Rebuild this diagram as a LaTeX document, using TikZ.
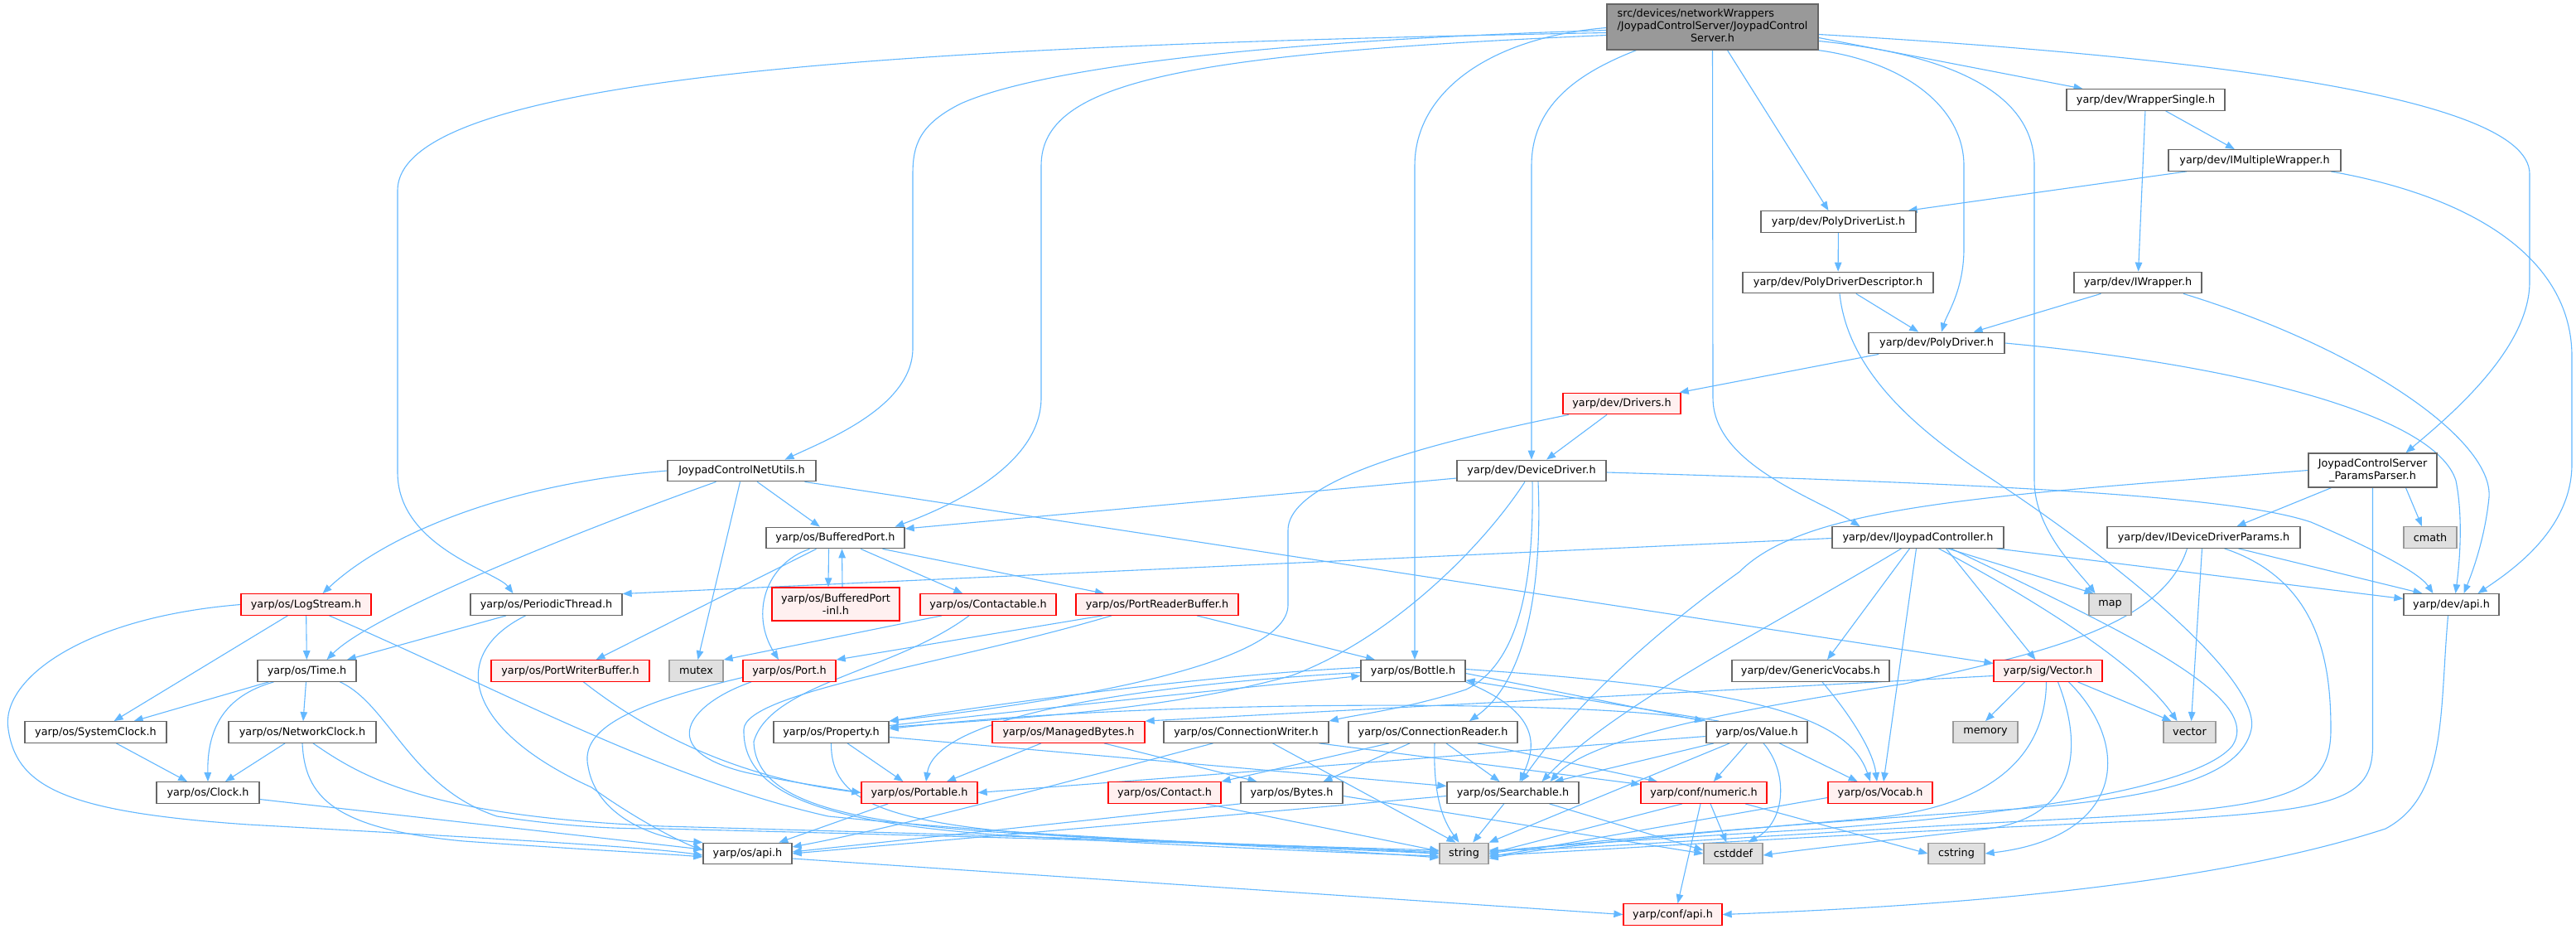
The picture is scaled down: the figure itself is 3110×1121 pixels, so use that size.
\documentclass[tikz,border=0pt]{standalone}
\usepackage{fontspec}
\setmainfont{DejaVu Sans}
\usetikzlibrary{arrows.meta}
\definecolor{edgecol}{HTML}{63B8FF}
\definecolor{nodeborder}{HTML}{666666}
\definecolor{redborder}{HTML}{FF0000}
\definecolor{redfill}{HTML}{FFF0F0}
\definecolor{grayborder}{HTML}{999999}
\definecolor{grayfill}{HTML}{E0E0E0}
\definecolor{rootfill}{HTML}{999999}
\pgfdeclarelayer{bg}
\pgfdeclarelayer{edges}
\pgfsetlayers{bg,edges,main}
\tikzset{
  nbase/.style={draw, line width=1.3pt, inner sep=0pt, minimum height=25.5pt, font=\fontsize{12.8}{15.3}\selectfont, text=black},
  nb/.style={nbase, draw=nodeborder, fill=white},
  nr/.style={nbase, draw=redborder, fill=redfill},
  ng/.style={nbase, draw=grayborder, fill=grayfill},
  nroot/.style={nbase, draw=nodeborder, fill=rootfill},
  e/.style={draw=edgecol, line width=1.1pt, -{Triangle[length=11pt,width=8.5pt]}},
}
\begin{document}
\begin{tikzpicture}[x=1pt,y=-1pt]
\begin{pgfonlayer}{bg}
\fill[white] (0,0) rectangle (3110,1121);
\end{pgfonlayer}
\useasboundingbox (0,0) rectangle (3110,1121);
% nodes
\node[nroot, minimum width=255pt, minimum height=55pt] (root) at (2067.5,32.5) {\begin{tabular}{@{}l@{}}src/devices/networkWrappers\\/JoypadControlServer/JoypadControl\\\multicolumn{1}{@{}c@{}}{Server.h}\end{tabular}};
\node[nb, minimum width=191pt] (wsingle) at (2590.5,120.5) {yarp/dev/WrapperSingle.h};
\node[nb, minimum width=208pt] (imw) at (2722,193.5) {yarp/dev/IMultipleWrapper.h};
\node[nb, minimum width=187pt] (pdlist) at (2219.5,267.5) {yarp/dev/PolyDriverList.h};
\node[nb, minimum width=230pt] (pddesc) at (2219,341) {yarp/dev/PolyDriverDescriptor.h};
\node[nb, minimum width=154pt] (iwrap) at (2581,341) {yarp/dev/IWrapper.h};
\node[nb, minimum width=164pt] (polyd) at (2338,414) {yarp/dev/PolyDriver.h};
\node[nr, minimum width=142pt] (drivers) at (1958,487) {yarp/dev/Drivers.h};
\node[nb, minimum width=180pt] (devdrv) at (1849,568) {yarp/dev/DeviceDriver.h};
\node[nb, minimum width=179pt] (netutils) at (895.5,568) {JoypadControlNetUtils.h};
\node[nb, minimum width=155pt, minimum height=41pt, align=center] (pparser) at (2864.5,567.5) {JoypadControlServer\\\_ParamsParser.h};
\node[nb, minimum width=167pt] (bport) at (1008.5,649) {yarp/os/BufferedPort.h};
\node[nb, minimum width=207pt] (ijoy) at (2315.5,648.5) {yarp/dev/IJoypadController.h};
\node[nb, minimum width=233pt] (iddp) at (2660.5,648.5) {yarp/dev/IDeviceDriverParams.h};
\node[ng, minimum width=64pt] (cmath) at (2934,648.5) {cmath};
\node[nr, minimum width=157pt] (logst) at (369.5,729.5) {yarp/os/LogStream.h};
\node[nb, minimum width=183pt] (pthread) at (659.5,729.5) {yarp/os/PeriodicThread.h};
\node[nr, minimum width=154pt, minimum height=40pt, align=center] (bpinl) at (1009,729) {yarp/os/BufferedPort\\-inl.h};
\node[nr, minimum width=164pt] (contactable) at (1193,729.5) {yarp/os/Contactable.h};
\node[nr, minimum width=196pt] (prb) at (1397,729.5) {yarp/os/PortReaderBuffer.h};
\node[ng, minimum width=51pt] (map) at (2547.5,729.5) {map};
\node[nb, minimum width=115pt] (devapi) at (2959.5,729.5) {yarp/dev/api.h};
\node[nb, minimum width=119pt] (time) at (370.5,809.5) {yarp/os/Time.h};
\node[nr, minimum width=191pt] (pwb) at (688.5,809.5) {yarp/os/PortWriterBuffer.h};
\node[ng, minimum width=65pt] (mutex) at (840.5,809.5) {mutex};
\node[nr, minimum width=112pt] (port) at (953,809.5) {yarp/os/Port.h};
\node[nb, minimum width=126pt] (bottle) at (1706,809.5) {yarp/os/Bottle.h};
\node[nb, minimum width=190pt] (genvoc) at (2186,809.5) {yarp/dev/GenericVocabs.h};
\node[nr, minimum width=131pt] (sigvec) at (2472.5,809.5) {yarp/sig/Vector.h};
\node[nb, minimum width=171pt] (sysclk) at (115.5,883.5) {yarp/os/SystemClock.h};
\node[nb, minimum width=178pt] (netclk) at (365,883.5) {yarp/os/NetworkClock.h};
\node[nb, minimum width=139pt] (prop) at (1003.5,883.5) {yarp/os/Property.h};
\node[nr, minimum width=184pt] (mbytes) at (1290,883.5) {yarp/os/ManagedBytes.h};
\node[nb, minimum width=199pt] (cwriter) at (1504.5,883.5) {yarp/os/ConnectionWriter.h};
\node[nb, minimum width=204pt] (creader) at (1730,883.5) {yarp/os/ConnectionReader.h};
\node[nb, minimum width=122pt] (value) at (2121,883.5) {yarp/os/Value.h};
\node[ng, minimum width=78pt] (memory) at (2397,883.5) {memory};
\node[ng, minimum width=63pt] (vecstd) at (2643.5,883.5) {vector};
\node[nb, minimum width=124pt] (clock) at (251,956.5) {yarp/os/Clock.h};
\node[nr, minimum width=140pt] (portable) at (1110,956.5) {yarp/os/Portable.h};
\node[nr, minimum width=136pt] (contact) at (1406,956.5) {yarp/os/Contact.h};
\node[nb, minimum width=123pt] (bytes) at (1559.5,956.5) {yarp/os/Bytes.h};
\node[nb, minimum width=159pt] (searchable) at (1826.5,956.5) {yarp/os/Searchable.h};
\node[nr, minimum width=152pt] (numeric) at (2057,956.5) {yarp/conf/numeric.h};
\node[nr, minimum width=126pt] (vocab) at (2270,956.5) {yarp/os/Vocab.h};
\node[nb, minimum width=107pt] (osapi) at (902.5,1030) {yarp/os/api.h};
\node[ng, minimum width=59pt] (string) at (1767.5,1030) {string};
\node[ng, minimum width=71pt] (cstddef) at (2092.5,1030) {cstddef};
\node[ng, minimum width=68pt] (cstring) at (2362,1030) {cstring};
\node[nr, minimum width=119pt] (confapi) at (2019.5,1103.5) {yarp/conf/api.h};

\begin{pgfonlayer}{edges}
% root
\draw[e] ([yshift=-7pt]root.west) .. controls (1100,55) and (480,90) .. (480,230) -- (480,570) .. controls (480,660) and (600,690) .. ([xshift=-40pt]pthread.north);
\draw[e] ([yshift=-4pt]root.west) .. controls (1500,50) and (1250,85) .. (1160,125) .. controls (1110,150) and (1102,175) .. (1102,210) -- (1102,420) .. controls (1102,490) and (1000,530) .. ([xshift=52pt]netutils.north);
\draw[e] ([yshift=-10pt]root.west) .. controls (1420,65) and (1257,100) .. (1257,200) -- (1257,480) .. controls (1257,560) and (1150,610) .. ([xshift=72pt]bport.north);
\draw[e] ([yshift=-1pt]root.west) .. controls (1800,45) and (1708,110) .. (1708,200) -- ([xshift=2pt]bottle.north);
\draw[e] ([xshift=-92pt]root.south) .. controls (1900,90) and (1849,130) .. (1849,200) -- (devdrv.north);
\draw[e] (root.south) -- (2068,480) .. controls (2068,560) and (2190,600) .. ([xshift=-70pt]ijoy.north);
\draw[e] ([xshift=18pt]root.south) -- ([xshift=-12pt]pdlist.north);
\draw[e] (root.south east) .. controls (2300,75) and (2371,130) .. (2371,200) -- (2371,300) .. controls (2371,350) and (2350,380) .. ([xshift=6pt]polyd.north);
\draw[e] ([yshift=-17pt]root.east) .. controls (2350,65) and (2456,110) .. (2456,200) -- (2456,580) .. controls (2456,640) and (2510,690) .. ([xshift=-18pt]map.north);
\draw[e] ([yshift=-13pt]root.east) -- ([xshift=-76pt]wsingle.north);
\draw[e] ([yshift=-9pt]root.east) .. controls (2600,65) and (3054,110) .. (3054,210) -- (3054,340) .. controls (3054,420) and (2960,500) .. ([xshift=40pt]pparser.north);
% wrappers / poly driver
\draw[e] (wsingle) -- (imw);
\draw[e] (wsingle) -- (iwrap);
\draw[e] ([xshift=-82pt]imw.south) -- ([xshift=-10pt]pdlist.north east);
\draw[e] ([xshift=92pt]imw.south) .. controls (3000,240) and (3105,320) .. (3105,430) -- (3105,560) .. controls (3105,640) and (3030,690) .. ([xshift=32pt]devapi.north);
\draw[e] (iwrap) -- (polyd);
\draw[e] ([xshift=55pt]iwrap.south) .. controls (2850,420) and (3010,530) .. (3005,600) .. controls (3000,650) and (2985,690) .. ([xshift=15pt]devapi.north);
\draw[e] (pdlist) -- (pddesc);
\draw[e] (pddesc) -- (polyd);
\draw[e] ([xshift=2pt]pddesc.south) .. controls (2230,440) and (2300,510) .. (2400,575) .. controls (2560,680) and (2730,820) .. (2718,880) .. controls (2705,940) and (2600,962) .. (2450,975) .. controls (2200,992) and (1900,1015) .. (string.east);
\draw[e] (polyd) -- (drivers);
\draw[e] (polyd.east) .. controls (2700,440) and (2940,500) .. (2965,580) .. controls (2975,630) and (2968,690) .. ([xshift=5pt]devapi.north);
% drivers / device driver
\draw[e] (drivers) -- (devdrv);
\draw[e] ([xshift=-64pt]drivers.south) .. controls (1750,530) and (1555,575) .. (1555,640) -- (1555,730) .. controls (1555,800) and (1300,845) .. (prop.north east);
\draw[e] ([yshift=-9pt]devdrv.west) -- ([yshift=11pt]bport.east);
\draw[e] ([xshift=-8pt]devdrv.south) .. controls (1790,660) and (1680,770) .. (1560,815) .. controls (1400,860) and (1200,868) .. ([yshift=6pt]prop.east);
\draw[e] ([xshift=1pt]devdrv.south) .. controls (1852,700) and (1835,800) .. (1770,832) .. controls (1700,855) and (1640,862) .. (cwriter.north east);
\draw[e] ([xshift=8pt]devdrv.south) .. controls (1862,700) and (1845,820) .. ([xshift=44pt]creader.north);
\draw[e] ([yshift=-2pt]devdrv.east) .. controls (2450,585) and (2700,600) .. (2790,630) .. controls (2860,660) and (2920,690) .. ([xshift=-22pt]devapi.north);
% net utils
\draw[e] (netutils.west) .. controls (600,585) and (460,650) .. ([xshift=20pt]logst.north);
\draw[e] ([xshift=-31pt]netutils.south) .. controls (700,640) and (450,740) .. ([xshift=24pt]time.north);
\draw[e] ([xshift=-2pt]netutils.south) -- ([xshift=2pt]mutex.north);
\draw[e] (netutils) -- (bport);
\draw[e] ([xshift=76pt]netutils.south) -- ([yshift=9pt]sigvec.west);
% periodic thread
\draw[e] (pthread) -- (time);
\draw[e] ([xshift=-25pt]pthread.south) .. controls (540,790) and (560,880) .. (714,950) .. controls (770,990) and (820,1015) .. ([yshift=4pt]osapi.west);
% log stream
\draw[e] (logst) -- (time);
\draw[e] (logst) -- (sysclk);
\draw[e] (logst.west) .. controls (100,745) and (0,820) .. (10,880) .. controls (20,950) and (80,980) .. (300,995) .. controls (600,1012) and (780,1022) .. ([yshift=-2pt]osapi.west);
\draw[e] ([xshift=28pt]logst.south) .. controls (600,830) and (800,940) .. (1000,985) .. controls (1300,1015) and (1600,1022) .. ([yshift=2pt]string.west);
% time and clocks
\draw[e] (time) -- (sysclk);
\draw[e] ([xshift=-40pt]time.south) .. controls (270,840) and (250,880) .. (clock.north);
\draw[e] (time) -- (netclk);
\draw[e] ([xshift=40pt]time.south) .. controls (470,850) and (495,950) .. (600,985) .. controls (700,1000) and (760,1000) .. (800,1000) .. controls (1200,1010) and (1600,1022) .. ([yshift=4pt]string.west);
\draw[e] (sysclk) -- (clock);
\draw[e] (netclk) -- (clock);
\draw[e] (netclk.south) .. controls (368,960) and (400,1000) .. (560,1015) .. controls (700,1025) and (800,1030) .. ([yshift=-4pt]osapi.west);
\draw[e] ([xshift=13pt]netclk.south) .. controls (440,940) and (520,985) .. (800,997) .. controls (1200,1008) and (1600,1020) .. (string.west);
\draw[e] ([yshift=-8pt]clock.east) -- ([yshift=5pt]osapi.west);
% buffered port
\draw[e] ([xshift=-8pt]bport.south) -- ([xshift=-9pt]bpinl.north);
\draw[e] ([xshift=8pt]bpinl.north) -- ([xshift=8pt]bport.south);
\draw[e] (bport) -- (contactable);
\draw[e] ([xshift=57pt]bport.south) -- ([xshift=-64pt]prb.north);
\draw[e] ([xshift=-31pt]bport.south) .. controls (925,680) and (905,740) .. ([xshift=-13pt]port.north);
\draw[e] ([xshift=-23pt]bport.south) -- ([xshift=31pt]pwb.north);
% contactable, port reader buffer, port
\draw[e] ([xshift=-56pt]contactable.south) -- (mutex.north east);
\draw[e] ([xshift=-23pt]contactable.south) .. controls (1080,810) and (930,825) .. (910,895) .. controls (912,960) and (1000,990) .. (1200,1004) .. controls (1450,1018) and (1650,1026) .. (string.west);
\draw[e] ([xshift=-66pt]prb.south) -- (port.north east);
\draw[e] ([xshift=-55pt]prb.south) .. controls (1150,800) and (900,835) .. (898,880) .. controls (896,960) and (1000,992) .. (1200,1007) .. controls (1450,1022) and (1650,1030) .. ([yshift=-3pt]string.west);
\draw[e] ([xshift=48pt]prb.south) -- ([xshift=-46pt]bottle.north);
\draw[e] ([xshift=-46pt]port.south) .. controls (830,850) and (790,905) .. (900,932) .. controls (960,945) and (1000,950) .. (portable.west);
\draw[e] ([yshift=-8pt]port.west) .. controls (760,850) and (700,880) .. (710,925) .. controls (720,985) and (790,1012) .. (osapi.north west);
\draw[e] ([xshift=16pt]pwb.south) .. controls (790,890) and (900,940) .. (portable.west);
% property
\draw[e] (prop) -- (portable);
\draw[e] (prop.south) .. controls (1003,965) and (1060,995) .. (1300,1010) .. controls (1500,1020) and (1650,1028) .. ([yshift=-5pt]string.west);
\draw[e] ([yshift=-6pt]prop.east) -- ([yshift=8pt]searchable.west);
\draw[e] ([yshift=8pt]prop.east) .. controls (1300,850) and (1500,830) .. ([yshift=-6pt]bottle.west);
% bottle
\draw[e] ([yshift=4pt]bottle.west) .. controls (1450,815) and (1200,850) .. (prop.north east);
\draw[e] ([yshift=-2pt]bottle.west) .. controls (1400,825) and (1130,860) .. ([xshift=8pt]portable.north);
\draw[e] ([yshift=-3pt]bottle.east) -- ([xshift=-64pt]value.north);
\draw[e] ([xshift=-46pt]value.north) -- ([yshift=2pt]bottle.south east);
\draw[e] (bottle.south east) .. controls (1860,860) and (1855,900) .. ([xshift=8pt]searchable.north);
\draw[e] ([yshift=2pt]bottle.east) .. controls (2100,830) and (2230,860) .. ([xshift=-12pt]vocab.north);
% value
\draw[e] (value.north west) .. controls (1950,845) and (1400,842) .. ([yshift=4pt]prop.east);
\draw[e] ([yshift=-5pt]value.west) -- (portable.east);
\draw[e] ([xshift=-52pt]value.south) -- ([xshift=50pt]searchable.north);
\draw[e] ([xshift=-33pt]value.south) -- (string.north east);
\draw[e] (value) -- (numeric);
\draw[e] ([xshift=8pt]value.south) .. controls (2158,930) and (2158,990) .. ([xshift=18pt]cstddef.north);
\draw[e] (value) -- (vocab);
% searchable, numeric, vocab
\draw[e] (searchable) -- (string);
\draw[e] ([xshift=44pt]searchable.south) -- ([yshift=4pt]cstddef.west);
\draw[e] ([yshift=-4pt]searchable.west) -- (osapi.east);
\draw[e] ([xshift=-26pt]numeric.south) -- (string.east);
\draw[e] ([xshift=8pt]numeric.south) -- ([xshift=-8pt]cstddef.north);
\draw[e] ([xshift=-4pt]numeric.south) -- ([xshift=6pt]confapi.north);
\draw[e] ([xshift=50pt]numeric.south) -- (cstring.west);
\draw[e] ([yshift=-6pt]vocab.west) -- ([yshift=-4pt]string.east);
\draw[e] ([xshift=14pt]genvoc.south) .. controls (2240,870) and (2262,910) .. ([xshift=-4pt]vocab.north);
% joypad controller
\draw[e] ([yshift=-1pt]ijoy.west) -- ([yshift=13pt]pthread.east);
\draw[e] ([xshift=-20pt]ijoy.south) .. controls (2150,750) and (1950,850) .. ([xshift=35pt]searchable.north);
\draw[e] ([xshift=-10pt]ijoy.south) -- ([xshift=20pt]genvoc.north);
\draw[e] ([xshift=-2pt]ijoy.south) -- ([xshift=4pt]vocab.north);
\draw[e] ([xshift=36pt]ijoy.south) -- ([xshift=-20pt]map.north);
\draw[e] ([xshift=95pt]ijoy.south) -- ([yshift=7pt]devapi.west);
\draw[e] ([xshift=34pt]ijoy.south) -- ([xshift=-15pt]sigvec.north);
\draw[e] ([xshift=25pt]ijoy.south) .. controls (2450,720) and (2580,800) .. ([xshift=-15pt]vecstd.north);
\draw[e] ([xshift=40pt]ijoy.south) .. controls (2560,760) and (2735,840) .. (2695,900) .. controls (2650,955) and (2400,985) .. (2200,1000) .. controls (2000,1012) and (1850,1022) .. ([yshift=2pt]string.east);
% device driver params
\draw[e] ([xshift=42pt]iddp.south) -- ([xshift=-35pt]devapi.north);
\draw[e] ([xshift=-2pt]iddp.south) -- ([xshift=2pt]vecstd.north);
\draw[e] ([xshift=-20pt]iddp.south) .. controls (2610,760) and (2450,790) .. (2300,825) .. controls (2100,855) and (1920,890) .. ([xshift=45pt]searchable.north);
\draw[e] ([xshift=25pt]iddp.south) .. controls (2800,700) and (2814,800) .. (2814,880) .. controls (2814,960) and (2760,975) .. (2500,988) .. controls (2200,1003) and (1900,1026) .. ([yshift=4pt]string.east);
% params parser
\draw[e] ([xshift=-50pt]pparser.south) -- ([xshift=40pt]iddp.north);
\draw[e] ([xshift=40pt]pparser.south) -- ([xshift=-10pt]cmath.north);
\draw[e] (pparser.south) -- (2864.5,900) .. controls (2864.5,965) and (2820,978) .. (2600,990) .. controls (2200,1007) and (1900,1028) .. ([yshift=-2pt]string.east);
\draw[e] (pparser.west) .. controls (2400,598) and (2180,610) .. (2100,690) .. controls (1960,790) and (1880,880) .. ([xshift=10pt]searchable.north);
% vector
\draw[e] ([xshift=-28pt]sigvec.south) -- (memory.north);
\draw[e] ([xshift=36pt]sigvec.south) -- ([xshift=-22pt]vecstd.north);
\draw[e] ([xshift=-2pt]sigvec.south) .. controls (2470,900) and (2420,975) .. (2250,988) .. controls (2050,1005) and (1880,1020) .. ([yshift=-6pt]string.east);
\draw[e] ([xshift=12pt]sigvec.south) .. controls (2515,900) and (2510,985) .. (2400,1000) .. controls (2300,1012) and (2200,1022) .. ([yshift=-2pt]cstddef.east);
\draw[e] ([xshift=25pt]sigvec.south) .. controls (2575,900) and (2565,1010) .. (cstring.east);
\draw[e] ([yshift=-6pt]sigvec.west) -- (mbytes.north east);
% apis
\draw[e] ([xshift=-4pt]devapi.south) .. controls (2945,860) and (2955,960) .. (2880,1000) .. controls (2650,1075) and (2300,1095) .. (confapi.east);
\draw[e] ([yshift=-6pt]osapi.east) -- (confapi.west);
% portable, managed bytes, connection writer/reader, bytes, contact
\draw[e] (portable) -- (osapi);
\draw[e] (mbytes) -- (portable);
\draw[e] ([xshift=43pt]mbytes.south) -- ([xshift=-42pt]bytes.north);
\draw[e] ([xshift=-40pt]cwriter.south) .. controls (1300,940) and (1100,995) .. ([yshift=8pt]osapi.east);
\draw[e] ([xshift=32pt]cwriter.south) -- ([xshift=-10pt]string.north);
\draw[e] ([xshift=88pt]cwriter.south) -- ([yshift=10pt]numeric.west);
\draw[e] ([xshift=-53pt]creader.south) -- (contact.north east);
\draw[e] ([xshift=-28pt]creader.south) -- ([xshift=38pt]bytes.north);
\draw[e] ([xshift=2pt]creader.south) .. controls (1730,960) and (1742,990) .. ([xshift=-6pt]string.north);
\draw[e] ([xshift=16pt]creader.south) -- ([xshift=-16pt]searchable.north);
\draw[e] ([xshift=54pt]creader.south) -- ([xshift=-56pt]numeric.north);
\draw[e] (bytes.south west) -- ([yshift=2pt]osapi.east);
\draw[e] ([yshift=-4pt]bytes.east) -- (cstddef.west);
\draw[e] ([xshift=50pt]contact.south) -- ([yshift=3pt]string.west);
\end{pgfonlayer}
\end{tikzpicture}
\end{document}
